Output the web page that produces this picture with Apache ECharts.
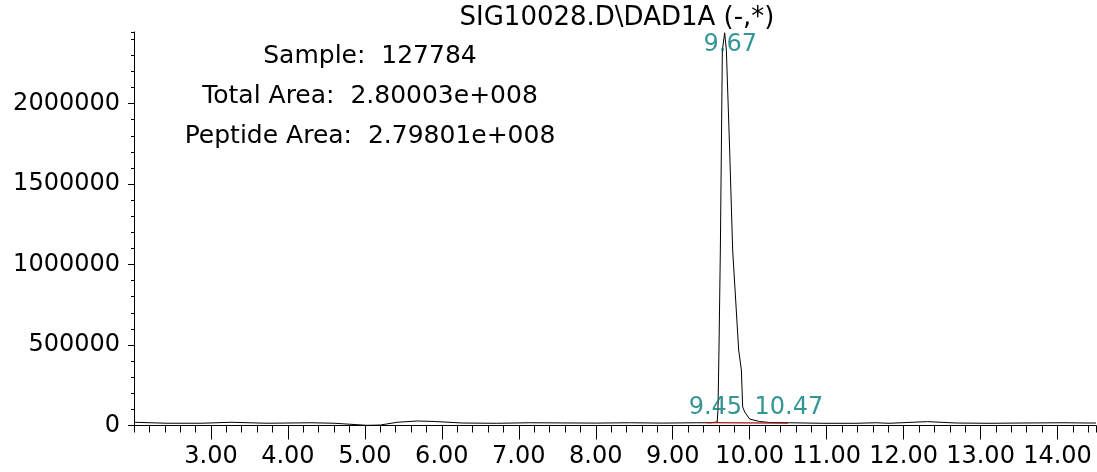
<!DOCTYPE html>
<html>
<head>
<meta charset="utf-8">
<script src="https://cdn.jsdelivr.net/npm/echarts@6/dist/echarts.min.js"></script>
<style>
html,body{margin:0;padding:0;background:#fff;}
#chart{width:1097px;height:472px;}
</style>
</head>
<body>
<div id="chart"></div>
<script>
// Retention time (min) and detector response
var times = [2.00, 2.43, 2.87, 3.26, 3.73, 4.30, 4.60, 5.03, 5.20, 5.42, 5.68, 5.90, 6.27, 6.71, 7.14, 7.57, 8.00, 8.44, 8.87, 9.31, 9.50,
  9.578, 9.588, 9.601, 9.619, 9.632, 9.645, 9.675, 9.697, 9.740, 9.779, 9.857, 9.892, 9.909, 9.935, 10.00, 10.127, 10.26,
  10.52, 10.95, 11.38, 11.64, 11.81, 12.31, 12.68, 13.11, 13.55, 14.07, 14.41, 14.50];
var response = [20000, 14000, 14000, 20000, 14000, 17000, 14000, 1000, 3000, 20000, 28000, 25000, 15500, 13700, 17000, 16000, 15000, 17000, 15000, 17000, 17000,
  22000, 96000, 469000, 1090000, 1711000, 2332000, 2440000, 2332000, 1711000, 1090000, 469000, 345000, 115000, 84000, 40000, 25000, 18600,
  17000, 13700, 13700, 17000, 13700, 24000, 15500, 13700, 15500, 17000, 15500, 15500];

// Integration baseline (start, end)
var baselineTimes = [9.44, 10.50];
var baselineValues = [17500, 15000];

// Peak labels
var peakTimes = [9.45, 9.67, 10.47];
var peakHeights = [17000, 2440000, 17000];

// Axis ticks
var xMajorTicks = [3, 4, 5, 6, 7, 8, 9, 10, 11, 12, 13, 14];
var yMajorTicks = [0, 500000, 1000000, 1500000, 2000000];

var titleText = 'SIG10028.D\\DAD1A (-,*)';
var infoLines = ['Sample:  127784', 'Total Area:  2.80003e+008', 'Peptide Area:  2.79801e+008'];

var FONT = 'DejaVu Sans';
var TEAL = '#007a7a';

var lineData = times.map(function (t, i) { return [t, response[i]]; });
var baseData = baselineTimes.map(function (t, i) { return [t, baselineValues[i]]; });
var labelOffsets = [[8, -15], [6, 12], [3, -15]];
var labelData = peakTimes.map(function (t, i) {
  return { value: [t, peakHeights[i]], label: { offset: labelOffsets[i] } };
});

var XMIN = 2, XMAX = 14.5, YMIN = 0, YMAX = 2445000;

var chart = echarts.init(document.getElementById('chart'), null, { renderer: 'canvas' });
chart.setOption({
  animation: false,
  backgroundColor: '#ffffff',
  grid: { left: 134, right: 1, top: 32, bottom: 46.5, containLabel: false, outerBoundsMode: 'none' },
  xAxis: [
    {
      type: 'value', min: XMIN, max: XMAX, interval: 1, position: 'bottom',
      axisLine: { show: true, onZero: false, lineStyle: { color: '#000', width: 1 } },
      axisTick: { show: true, length: 14, customValues: xMajorTicks, lineStyle: { color: '#000', width: 1 } },
      axisLabel: { show: true, customValues: xMajorTicks, margin: 19, color: '#000', fontFamily: FONT, fontSize: 24,
        hideOverlap: false, formatter: function (v) { return v.toFixed(2); } },
      splitLine: { show: false }
    },
    {
      type: 'value', min: XMIN, max: XMAX, interval: 0.2, position: 'bottom',
      axisLine: { show: false, onZero: false },
      axisTick: { show: true, length: 7, lineStyle: { color: '#000', width: 1 } },
      axisLabel: { show: false },
      splitLine: { show: false }
    }
  ],
  yAxis: [
    {
      type: 'value', min: YMIN, max: YMAX, interval: 500000, position: 'left',
      axisLine: { show: true, onZero: false, lineStyle: { color: '#000', width: 1 } },
      axisTick: { show: true, length: 6, customValues: yMajorTicks, lineStyle: { color: '#000', width: 1 } },
      axisLabel: { show: true, customValues: yMajorTicks, margin: 14, color: '#000', fontFamily: FONT, fontSize: 24,
        formatter: function (v) { return String(Math.round(v)); } },
      splitLine: { show: false }
    },
    {
      type: 'value', min: YMIN, max: YMAX, interval: 100000, position: 'left',
      axisLine: { show: false, onZero: false },
      axisTick: { show: true, length: 3, lineStyle: { color: '#000', width: 1 } },
      axisLabel: { show: false },
      splitLine: { show: false }
    }
  ],
  series: [
    {
      type: 'line', data: lineData, xAxisIndex: 0, yAxisIndex: 0,
      showSymbol: false, symbol: 'none', smooth: false,
      lineStyle: { color: '#000', width: 1 }, z: 2
    },
    {
      type: 'line', data: baseData, xAxisIndex: 0, yAxisIndex: 0,
      showSymbol: false, symbol: 'none',
      lineStyle: { color: '#a01818', width: 1.2 }, z: 3
    },
    {
      type: 'scatter', data: labelData, xAxisIndex: 0, yAxisIndex: 0,
      symbolSize: 0.1, itemStyle: { color: 'rgba(0,0,0,0)' }, z: 4,
      label: {
        show: true, position: 'inside', color: TEAL, fontFamily: FONT, fontSize: 24,
        formatter: function (p) { return p.value[0].toFixed(2); }
      }
    }
  ],
  graphic: [
    { type: 'text', x: 617, y: 18, style: { text: titleText, fill: '#000', font: '26px "' + FONT + '"', textAlign: 'center', textVerticalAlign: 'middle' }, z: 10 },
    { type: 'text', x: 370, y: 56, style: { text: infoLines[0], fill: '#000', font: '25px "' + FONT + '"', textAlign: 'center', textVerticalAlign: 'middle' }, z: 10 },
    { type: 'text', x: 370, y: 96, style: { text: infoLines[1], fill: '#000', font: '25px "' + FONT + '"', textAlign: 'center', textVerticalAlign: 'middle' }, z: 10 },
    { type: 'text', x: 370, y: 136, style: { text: infoLines[2], fill: '#000', font: '25px "' + FONT + '"', textAlign: 'center', textVerticalAlign: 'middle' }, z: 10 }
  ]
});
</script>
</body>
</html>
